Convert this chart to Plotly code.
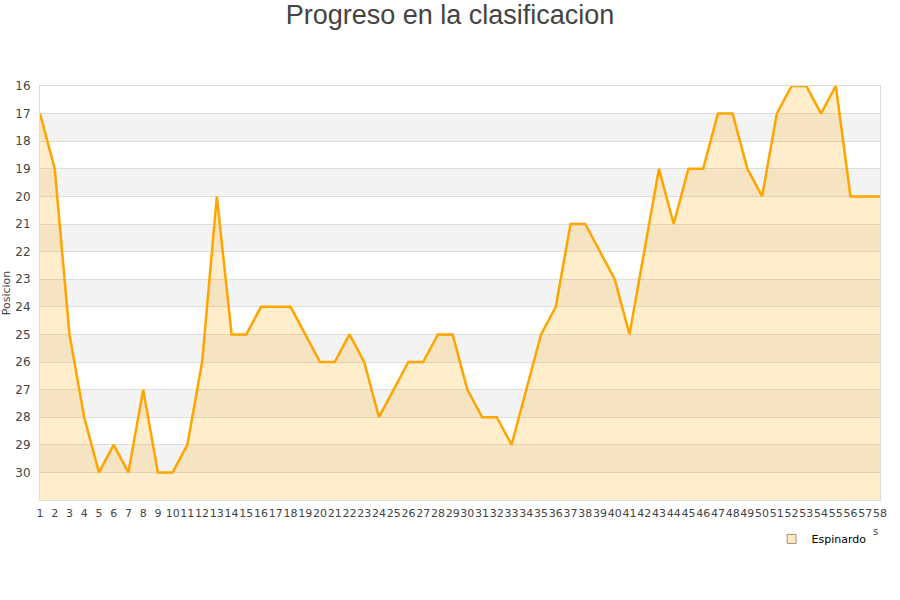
import plotly.graph_objects as go

# jornadas y posicion en la tabla
jornadas = list(range(1, 59))
posicion = [17, 19, 25, 28, 30, 29, 30, 27, 30, 30,
            29, 26, 20, 25, 25, 24, 24, 24, 25, 26,
            26, 25, 26, 28, 27, 26, 26, 25, 25, 27,
            28, 28, 29, 27, 25, 24, 21, 21, 22, 23,
            25, 22, 19, 21, 19, 19, 17, 17, 19, 20,
            17, 16, 16, 17, 16, 20, 20, 20]
equipo = 'Espinardo'
y_ticks = list(range(16, 31))
fondo = 31

cat = [str(j) for j in jornadas]

fig = go.Figure()

# linea base para rellenar hacia abajo (eje invertido)
fig.add_trace(go.Scatter(x=cat, y=[fondo] * len(cat), mode='lines',
                         line=dict(width=0), showlegend=False, hoverinfo='skip'))
fig.add_trace(go.Scatter(x=cat, y=posicion, mode='lines', name=equipo,
                         fill='tonexty', fillcolor='rgba(255,165,0,0.2)',
                         line=dict(color='#FFA500', width=2.5),
                         showlegend=False))
# entrada de leyenda
fig.add_trace(go.Scatter(x=[None], y=[None], mode='markers', name=equipo,
                         marker=dict(symbol='square', size=9, color='#fde9c5',
                                     line=dict(color='#a89070', width=1))))

# bandas alternas
shapes = []
for k in range(17, 31, 2):
    shapes.append(dict(type='rect', xref='paper', yref='y', x0=0, x1=1,
                       y0=k, y1=k + 1, fillcolor='#f3f3f3', line=dict(width=0),
                       layer='below'))

fig.update_layout(
    width=900, height=600,
    margin=dict(l=40, r=20, t=86, b=100, autoexpand=False),
    paper_bgcolor='white', plot_bgcolor='white',
    font=dict(family='DejaVu Sans', size=11, color='#444'),
    title=dict(text='Progreso en la clasificacion', x=0.5, xanchor='center',
               y=0.975, yanchor='middle', automargin=False,
               font=dict(family='Liberation Sans', size=27, color='#444')),
    shapes=shapes,
    showlegend=True,
    legend=dict(x=0.99, xanchor='right', y=-0.094, yanchor='middle',
                font=dict(family='DejaVu Sans', size=11, color='#000'),
                bgcolor='rgba(0,0,0,0)', itemwidth=30),
    xaxis=dict(type='category', range=[0, len(cat) - 1], showgrid=False,
               tickfont=dict(size=11, color='#444'), tickangle=0,
               ticklabelstandoff=3,
               showline=True, linecolor='#ddd', mirror=True, ticks='',
               zeroline=False, automargin=False),
    yaxis=dict(range=[fondo, 16], tickvals=y_ticks, showgrid=True,
               gridcolor='#ddd', gridwidth=1,
               tickfont=dict(size=12, color='#444'), ticklabelstandoff=6,
               showline=True, linecolor='#ddd', mirror=True, ticks='',
               zeroline=False, automargin=False,
               title=dict(text='Posicion', standoff=6,
                          font=dict(size=11, color='#444'))),
)

fig.add_annotation(text='s', xref='paper', yref='paper', x=1.0, y=-0.093,
                   showarrow=False, font=dict(size=10, color='#444'))

# sin margen de pagina para que la figura empiece en (0, 0)
fig.write_html("out.html", config={'displayModeBar': False},
               post_script="document.body.style.margin='0';")
